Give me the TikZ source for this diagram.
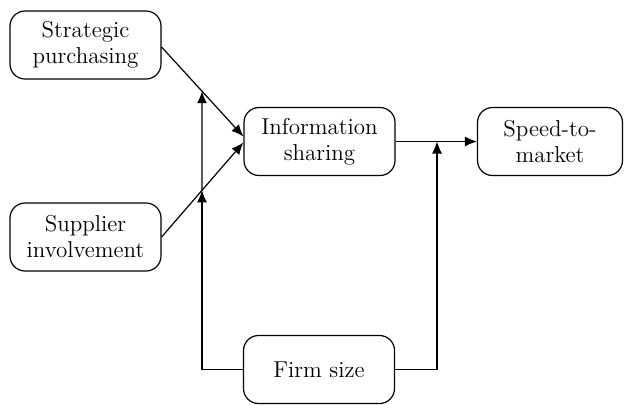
\documentclass[tikz,border=0pt]{standalone}
\usetikzlibrary{arrows.meta,positioning,calc}
\tikzset{
  factor/.style={draw,rounded corners=7.5pt,fill=white,align=center,minimum height=34pt,minimum width=75.5pt,inner sep=2pt,line width=0.6pt,font=\fontsize{11.5}{13}\selectfont},
  arr/.style={-{Latex[length=6pt,width=5pt]},line width=0.6pt}
}
\begin{document}
\begin{tikzpicture}[x=0.5pt,y=-0.5pt]
  \useasboundingbox (0,0) rectangle (624,404);
  \node[factor] (sp) at (85.5,45) {Strategic\\purchasing};
  \node[factor] (si) at (85.5,237) {Supplier\\involvement};
  \node[factor] (is) at (319.5,141.5) {Information\\sharing};
  \node[factor,minimum width=72.5pt] (stm) at (550,141.5) {Speed-to-\\market};
  \node[factor] (fs) at (319,369.5) {Firm size};
  % end points of the main paths
  \coordinate (spout) at ([yshift=-1pt]sp.east);
  \coordinate (siout) at (si.east);
  \coordinate (isin1) at ([yshift=2.5pt]is.west);
  \coordinate (isin2) at ([yshift=-0.5pt]is.west);
  % vertical buses of the moderator
  \coordinate (lbtop) at (202,0);
  \coordinate (lbbot) at (202,404);
  \coordinate (rbus) at (437,368);
  \coordinate (m1) at (intersection of spout--isin1 and lbtop--lbbot);
  \coordinate (m2) at (intersection of siout--isin2 and lbtop--lbbot);
  \coordinate (m3) at (is.east -| rbus);
  % direct effects
  \draw[arr] (spout) -- (isin1);
  \draw[arr] (siout) -- (isin2);
  \draw[arr] (is.east) -- (stm.west);
  % moderation by firm size
  \draw[arr] (fs.west) -| (m2);
  \draw[arr] (m2) -- (m1);
  \draw[arr] (fs.east) -| (m3);
\end{tikzpicture}
\end{document}
